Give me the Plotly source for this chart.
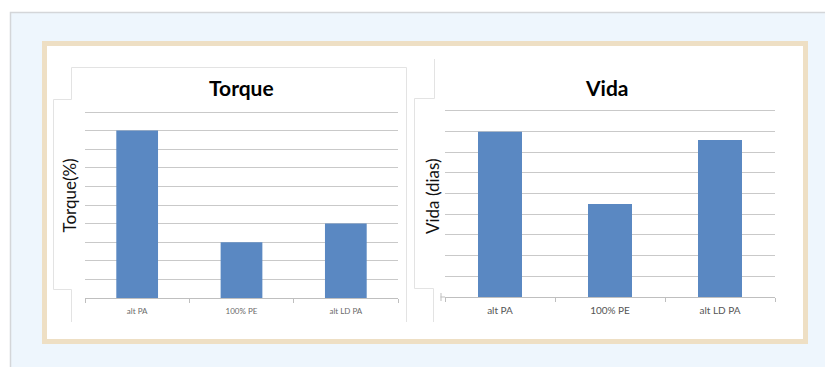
import plotly.graph_objects as go

W, H = 825, 367

categories = ["alt PA", "100% PE", "alt LD PA"]
torque_values = [90, 30, 40]
vida_values = [8.0, 4.5, 7.6]

BAR = "#5A88C2"
GRID = "#C9C9C9"

def px(x):
    return x / W

def py(y):
    return 1 - y / H

fig = go.Figure()
fig.add_trace(go.Bar(x=categories, y=torque_values, marker=dict(color=BAR, line=dict(width=0)),
                     xaxis="x", yaxis="y", showlegend=False))
fig.add_trace(go.Bar(x=categories, y=vida_values, marker=dict(color=BAR, line=dict(width=0)),
                     xaxis="x2", yaxis="y2", showlegend=False))

shapes = []
# light blue panel
shapes.append(dict(type="rect", xref="paper", yref="paper", x0=px(10.5), x1=px(830), y0=py(12.5), y1=py(370),
                   fillcolor="#EEF6FD", line=dict(color="#D4D6D9", width=1.5), layer="below"))
# beige frame
shapes.append(dict(type="rect", xref="paper", yref="paper", x0=px(44.5), x1=px(805.5), y0=py(43.5), y1=py(341.5),
                   fillcolor="#FFFFFF", line=dict(color="#EEDFC4", width=5), layer="below"))

def path(points):
    return "M " + " L ".join(f"{px(x)},{py(y)}" for x, y in points)

# chart frames (screenshot edges)
shapes.append(dict(type="path", xref="paper", yref="paper",
                   path=path([(71.5, 99.5), (71.5, 67.5), (406.5, 67.5), (406.5, 322)]),
                   line=dict(color="#E3E3E3", width=1), layer="below"))
shapes.append(dict(type="path", xref="paper", yref="paper",
                   path=path([(71.5, 99.5), (53.5, 99.5), (53.5, 289.5), (71.5, 289.5), (71.5, 322)]),
                   line=dict(color="#E3E3E3", width=1), layer="below"))
shapes.append(dict(type="path", xref="paper", yref="paper",
                   path=path([(434.5, 59), (434.5, 98.5), (414.5, 98.5), (414.5, 288.5), (433.5, 288.5), (433.5, 322)]),
                   line=dict(color="#E3E3E3", width=1), layer="below"))
# small axis extension on right chart
shapes.append(dict(type="line", xref="paper", yref="paper", x0=px(440.5), x1=px(445), y0=py(297), y1=py(297),
                   line=dict(color="#BFBFBF", width=1)))
shapes.append(dict(type="line", xref="paper", yref="paper", x0=px(441), x1=px(441), y0=py(293), y1=py(301),
                   line=dict(color="#BFBFBF", width=1)))

FONT = "Lato, 'Open Sans', sans-serif"
annotations = [
    dict(text="<b>Torque</b>", x=px(241), y=py(87), xref="paper", yref="paper", showarrow=False,
         font=dict(family=FONT, size=21, color="#000000"), xanchor="center", yanchor="middle"),
    dict(text="<b>Vida</b>", x=px(607), y=py(87), xref="paper", yref="paper", showarrow=False,
         font=dict(family=FONT, size=21, color="#000000"), xanchor="center", yanchor="middle"),
    dict(text="Torque(%)", x=px(69), y=py(195.5), xref="paper", yref="paper", showarrow=False, textangle=-90,
         font=dict(family=FONT, size=17, color="#111111"), xanchor="center", yanchor="middle"),
    dict(text="Vida (dias)", x=px(432), y=py(196), xref="paper", yref="paper", showarrow=False, textangle=-90,
         font=dict(family=FONT, size=17, color="#111111"), xanchor="center", yanchor="middle"),
]

# ranges are padded slightly so the top gridline is drawn inside the plot area
T_TOP, V_TOP = 101, 9.05
t_top_px = 298 - (298 - 112) * T_TOP / 100
v_top_px = 297 - (297 - 111) * V_TOP / 9

fig.update_layout(
    width=W, height=H,
    margin=dict(l=0, r=0, t=0, b=0),
    paper_bgcolor="#FFFFFF",
    plot_bgcolor="rgba(0,0,0,0)",
    bargap=0.6,
    shapes=shapes,
    annotations=annotations,
    xaxis=dict(domain=[px(85), px(398)], anchor="y", showline=True, linecolor="#BFBFBF", linewidth=1,
               ticks="outside", tickson="boundaries", ticklen=4, tickcolor="#BFBFBF", ticklabelstandoff=5,
               tickfont=dict(family=FONT, size=8, color="#6A6A6A"), showgrid=False),
    yaxis=dict(domain=[py(298), py(t_top_px)], anchor="x", range=[0, T_TOP], dtick=10, showticklabels=False,
               showgrid=True, gridcolor=GRID, gridwidth=1.3, zeroline=False, showline=False, ticks=""),
    xaxis2=dict(domain=[px(445), px(775)], anchor="y2", showline=True, linecolor="#BFBFBF", linewidth=1,
                ticks="outside", tickson="boundaries", ticklen=4, tickcolor="#BFBFBF", ticklabelstandoff=4,
                tickfont=dict(family=FONT, size=10, color="#555555"), showgrid=False),
    yaxis2=dict(domain=[py(297), py(v_top_px)], anchor="x2", range=[0, V_TOP], dtick=1, showticklabels=False,
                showgrid=True, gridcolor=GRID, gridwidth=1.3, zeroline=False, showline=False, ticks=""),
)

fig.write_html("out.html")
